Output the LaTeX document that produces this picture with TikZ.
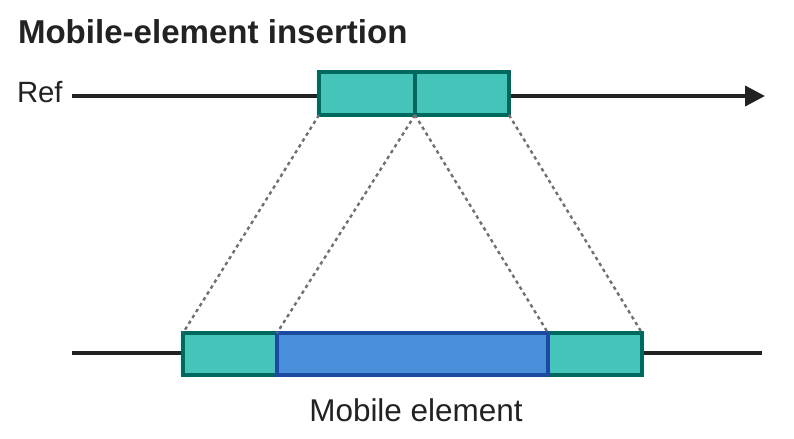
\documentclass[tikz,border=0pt]{standalone}
\usepackage{fontspec}
\setmainfont{Liberation Sans}
\usetikzlibrary{arrows.meta}
\definecolor{tealfill}{HTML}{45C4BA}
\definecolor{tealedge}{HTML}{00695F}
\definecolor{bluefill}{HTML}{4A8FD9}
\definecolor{blueedge}{HTML}{1C4AA0}
\definecolor{linecol}{HTML}{222222}
\definecolor{dotcol}{HTML}{707070}
\begin{document}
\begin{tikzpicture}[x=0.75pt,y=-0.75pt,
  seg/.style={draw=tealedge,fill=tealfill,line width=2.3pt,rectangle,inner sep=0pt,outer sep=0pt},
  ins/.style={draw=blueedge,fill=bluefill,line width=2.3pt,rectangle,inner sep=0pt,outer sep=0pt},
  backbone/.style={draw=linecol,line width=3pt},
  guide/.style={draw=dotcol,line width=1.8pt,dash pattern=on 2.6pt off 2.6pt},
  lbl/.style={inner sep=0pt,outer sep=0pt,text=linecol}]
\useasboundingbox (0,0) rectangle (794,439);
% title
\node[lbl,anchor=west,font=\bfseries\fontsize{24.8}{28}\selectfont] (title) at (18,32) {Mobile-element insertion};
% reference line
\node[lbl,anchor=west,font=\fontsize{22}{26}\selectfont] (ref) at (17,92) {Ref};
\coordinate (rs) at (72,96);
\coordinate (re) at (765,96);
\draw[backbone,-{Triangle[length=15pt,width=15pt]}] (rs) -- (re);
\path[seg] (319,72) rectangle (415,115);
\path[seg] (415,72) rectangle (509,115);
\coordinate (tl) at (319,115);
\coordinate (tm) at (415,115);
\coordinate (tr) at (509,115);
% bottom line
\coordinate (bs) at (72,353);
\coordinate (be) at (762,353);
\draw[backbone] (bs) -- (be);
\path[seg] (183,333) rectangle (277,375);
\path[seg] (548,333) rectangle (642,375);
\path[ins] (277,333) rectangle (548,375);
\coordinate (bl) at (183,333);
\coordinate (bml) at (277,333);
\coordinate (bmr) at (548,333);
\coordinate (br) at (642,333);
% guides
\draw[guide] (tl) -- (bl);
\draw[guide] (tm) -- (bml);
\draw[guide] (tm) -- (bmr);
\draw[guide] (tr) -- (br);
\node[lbl,font=\fontsize{23.6}{27}\selectfont] (me) at (416,410) {Mobile element};
\end{tikzpicture}
\end{document}
